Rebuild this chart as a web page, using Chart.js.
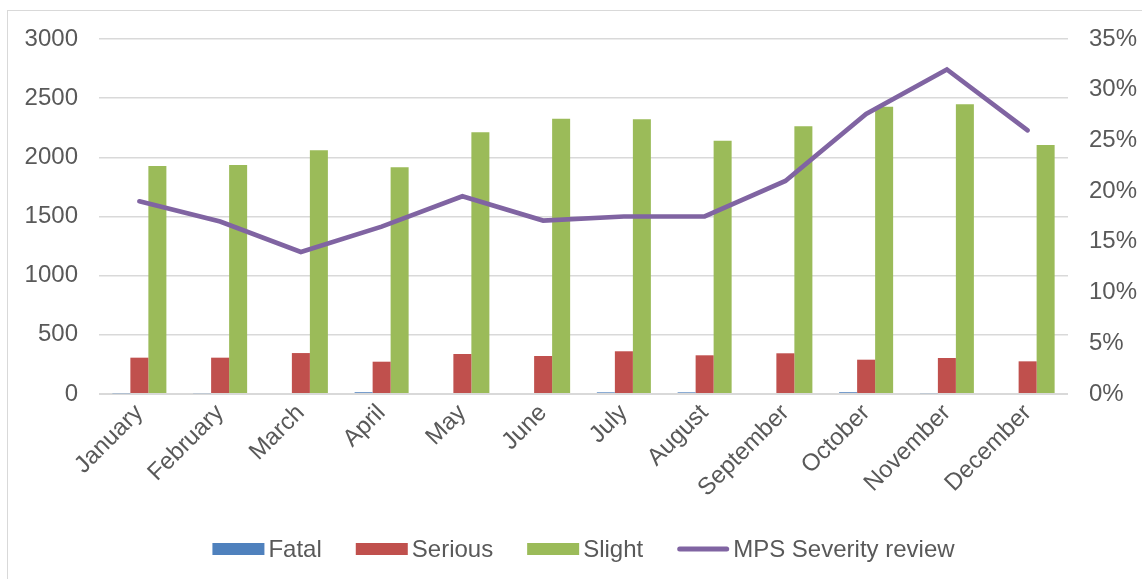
<!DOCTYPE html>
<html>
<head>
<meta charset="utf-8">
<script src="https://cdn.jsdelivr.net/npm/chart.js@4"></script>
<style>
  html, body { margin: 0; padding: 0; background: #ffffff; }
  #wrap { position: relative; width: 1142px; height: 579px; overflow: hidden; }
  #frame { position: absolute; left: 7px; top: 10px; width: 1200px; height: 640px;
           border-left: 1.5px solid #d9d9d9; border-top: 1.5px solid #d9d9d9; }
  canvas { position: absolute; left: 0; top: 0; }
</style>
</head>
<body>
<div id="wrap">
  <div id="frame"></div>
  <canvas id="chart" width="1142" height="579"></canvas>
</div>
<script>
// Casualties by month, with the MPS severity review rate
const months = ['January', 'February', 'March', 'April', 'May', 'June',
                'July', 'August', 'September', 'October', 'November', 'December'];
const fatal    = [6, 7, 0, 15, 0, 0, 14, 14, 0, 15, 7, 0];
const serious  = [307, 307, 346, 273, 338, 321, 361, 327, 344, 290, 304, 276];
const slight   = [1927, 1935, 2060, 1916, 2212, 2326, 2322, 2141, 2262, 2428, 2448, 2104];
const severity = [19.0, 17.0, 14.0, 16.5, 19.5, 17.1, 17.5, 17.5, 21.0, 27.6, 32.0, 26.0];

const countTicks   = [0, 500, 1000, 1500, 2000, 2500, 3000];
const percentTicks = [0, 5, 10, 15, 20, 25, 30, 35];

const TEXT = '#595959';
const GRID = '#d9d9d9';
const FONT = { family: '"Liberation Sans", Arial, sans-serif', size: 24 };

// Legend row drawn under the month labels
const bottomLegend = {
  id: 'bottomLegend',
  afterDraw(chart) {
    const ctx = chart.ctx;
    ctx.save();
    ctx.font = FONT.size + 'px ' + FONT.family;
    ctx.textBaseline = 'middle';
    ctx.textAlign = 'left';
    const boxW = 52, boxH = 12, gap = 4, spacing = 34;
    const items = chart.data.datasets.map(ds => ({
      label: ds.label,
      color: ds.type === 'line' ? ds.borderColor : ds.backgroundColor,
      line: ds.type === 'line'
    }));
    const widths = items.map(it => boxW + gap + ctx.measureText(it.label).width);
    const total = widths.reduce((a, b) => a + b, 0) + spacing * (items.length - 1);
    let x = (chart.chartArea.left + chart.chartArea.right) / 2 - total / 2;
    const y = chart.height - 30;
    items.forEach((it, i) => {
      if (it.line) {
        ctx.strokeStyle = it.color;
        ctx.lineWidth = 5;
        ctx.lineCap = 'round';
        ctx.beginPath();
        ctx.moveTo(x + 2.5, y);
        ctx.lineTo(x + boxW - 2.5, y);
        ctx.stroke();
      } else {
        ctx.fillStyle = it.color;
        ctx.fillRect(x, y - boxH / 2, boxW, boxH);
      }
      ctx.fillStyle = TEXT;
      ctx.fillText(it.label, x + boxW + gap, y + 1);
      x += widths[i] + spacing;
    });
    ctx.restore();
  }
};

new Chart(document.getElementById('chart'), {
  data: {
    labels: months,
    datasets: [
      { type: 'bar', label: 'Fatal', data: fatal, backgroundColor: '#4F81BD', yAxisID: 'y', order: 1 },
      { type: 'bar', label: 'Serious', data: serious, backgroundColor: '#C0504D', yAxisID: 'y', order: 1 },
      { type: 'bar', label: 'Slight', data: slight, backgroundColor: '#9BBB59', yAxisID: 'y', order: 1 },
      { type: 'line', label: 'MPS Severity review', data: severity, borderColor: '#8064A2',
        backgroundColor: '#8064A2', borderWidth: 4.7, pointRadius: 0, pointHoverRadius: 0,
        tension: 0, borderCapStyle: 'round', borderJoinStyle: 'miter', fill: false,
        yAxisID: 'y1', order: 0 }
    ]
  },
  options: {
    responsive: false,
    animation: false,
    devicePixelRatio: 1,
    layout: { padding: { top: 39, bottom: 70, left: 0, right: 0 } },
    datasets: { bar: { categoryPercentage: 0.669, barPercentage: 1.0 } },
    plugins: { legend: { display: false }, tooltip: { enabled: false } },
    scales: {
      x: {
        offset: true,
        grid: { display: false, drawTicks: false },
        border: { display: false },
        ticks: { color: TEXT, font: FONT, minRotation: 45, maxRotation: 45, autoSkip: false, padding: 5 },
        afterFit(scale) { scale.height = 115; }
      },
      y: {
        position: 'left',
        min: countTicks[0],
        max: countTicks[countTicks.length - 1],
        afterBuildTicks(scale) { scale.ticks = countTicks.map(v => ({ value: v })); },
        ticks: { color: TEXT, font: FONT, padding: 21, callback: v => String(v) },
        grid: { color: GRID, lineWidth: c => (c.tick && c.tick.value === 0 ? 2 : 1.4), drawTicks: false },
        border: { display: false },
        afterFit(scale) { scale.width = 99; }
      },
      y1: {
        position: 'right',
        min: percentTicks[0],
        max: percentTicks[percentTicks.length - 1],
        afterBuildTicks(scale) { scale.ticks = percentTicks.map(v => ({ value: v })); },
        ticks: { color: TEXT, font: FONT, padding: 21, callback: v => v + '%' },
        grid: { display: false, drawTicks: false },
        border: { display: false },
        afterFit(scale) { scale.width = 74; }
      }
    }
  },
  plugins: [bottomLegend]
});
</script>
</body>
</html>
